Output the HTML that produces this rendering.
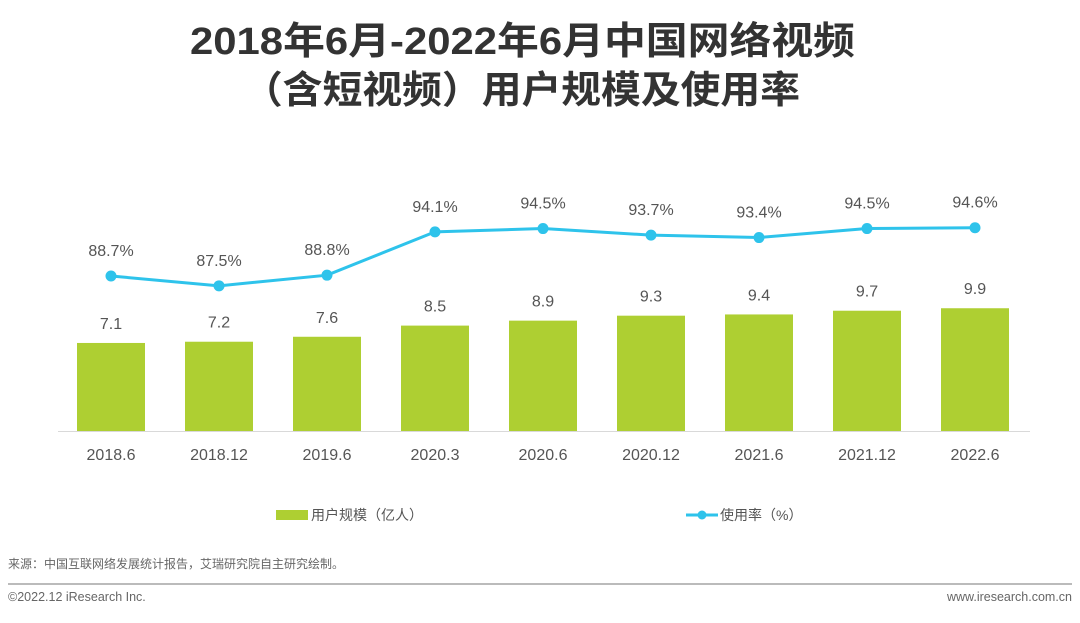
<!DOCTYPE html>
<html><head><meta charset="utf-8"><style>
body{margin:0;background:#fff;font-family:"Liberation Sans","Noto Sans CJK SC",sans-serif;}
svg text{font-family:"Liberation Sans","Noto Sans CJK SC",sans-serif;}
</style></head><body>
<svg id="c" width="1080" height="618" viewBox="0 0 1080 618">
<text x="190" y="54" textLength="665" lengthAdjust="spacingAndGlyphs" font-size="38" font-weight="bold" fill="#333">2018年6月-2022年6月中国网络视频</text>
<text x="243" y="103" textLength="557" lengthAdjust="spacingAndGlyphs" font-size="38" font-weight="bold" fill="#333">（含短视频）用户规模及使用率</text>
<line x1="58" y1="431.5" x2="1030" y2="431.5" stroke="#d9d9d9" stroke-width="1"/>
<g id="bars"></g><g id="line"></g><g id="xt"></g>
<rect x="276" y="510" width="32" height="10" fill="#aecf32"/>
<text x="311" y="520" font-size="14" fill="#555">用户规模（亿人）</text>
<line x1="686" y1="515" x2="718" y2="515" stroke="#2ec3eb" stroke-width="3"/>
<circle cx="702" cy="515" r="4.5" fill="#2ec3eb"/>
<text x="720" y="520" font-size="14" fill="#555">使用率（%）</text>
<text x="8" y="568" font-size="12" fill="#666">来源：中国互联网络发展统计报告，艾瑞研究院自主研究绘制。</text>
<line x1="8" y1="584" x2="1072" y2="584" stroke="#bbb" stroke-width="2"/>
<text x="8" y="601" font-size="12.5" fill="#666">©2022.12 iResearch Inc.</text>
<text x="1072" y="601" text-anchor="end" font-size="12.5" fill="#666">www.iresearch.com.cn</text>
</svg>
<script>
const categories=["2018.6","2018.12","2019.6","2020.3","2020.6","2020.12","2021.6","2021.12","2022.6"];
const users=[7.1,7.2,7.6,8.5,8.9,9.3,9.4,9.7,9.9];
const rates=[88.7,87.5,88.8,94.1,94.5,93.7,93.4,94.5,94.6];
const NS="http://www.w3.org/2000/svg";
function xPos(i){return 111+i*108;}
function yBar(v){return 431-v*12.4;}
function yRate(v){return 276-(v-88.7)*8.18;}
function mk(t,a,p){const e=document.createElementNS(NS,t);for(const k in a)e.setAttribute(k,a[k]);p.appendChild(e);return e;}
const gb=document.getElementById('bars'),gl=document.getElementById('line'),gx=document.getElementById('xt');
users.forEach((v,i)=>{
 const r=mk('rect',{x:xPos(i)-34,y:yBar(v),width:68,height:431-yBar(v),fill:'#aecf32'},gb);
 
 
 const t=mk('text',{x:xPos(i),y:yBar(v)-14,'text-anchor':'middle','font-size':16,fill:'#555'},gb);
 t.textContent=v.toFixed(1);
 
 
 const xt=mk('text',{x:xPos(i),y:460,'text-anchor':'middle','font-size':16,fill:'#555'},gx);
 xt.textContent=categories[i];
 
 
});
const pl=mk('polyline',{points:rates.map((v,i)=>xPos(i)+','+yRate(v)).join(' '),fill:'none',stroke:'#2ec3eb','stroke-width':3},gl);


rates.forEach((v,i)=>{
 const c=mk('circle',{cx:xPos(i),cy:yRate(v),r:5.5,fill:'#2ec3eb'},gl);
 
 
 const t=mk('text',{x:xPos(i),y:yRate(v)-20,'text-anchor':'middle','font-size':16,fill:'#555'},gl);
 t.textContent=v.toFixed(1)+'%';
 
 
});
</script>
</body></html>
